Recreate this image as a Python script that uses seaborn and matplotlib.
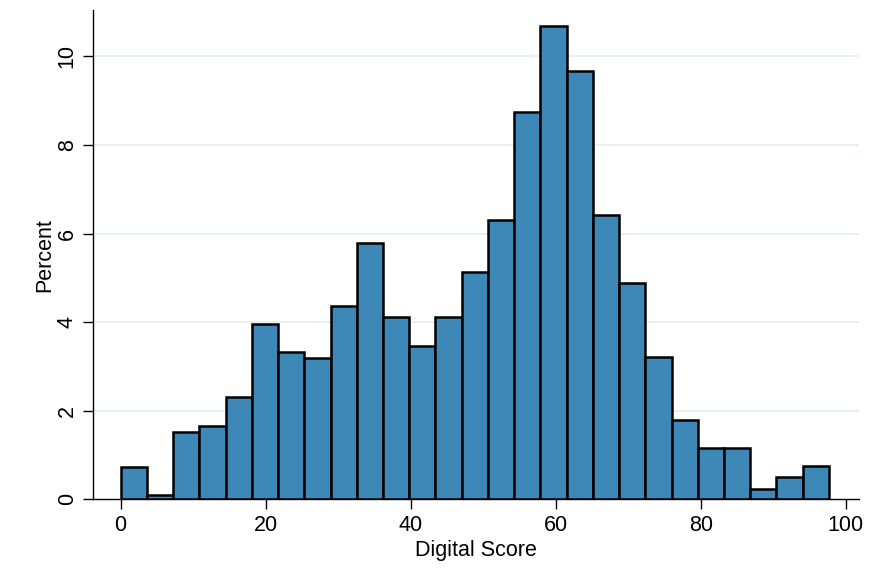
import numpy as np
import pandas as pd
import matplotlib
matplotlib.use("Agg")
import matplotlib.pyplot as plt
import seaborn as sns

# bin edges: 27 equal bins between 0 and ~97.7
n_bins = 27
score_min = 0.0
score_max = 97.7

percent = [0.74, 0.11, 1.53, 1.65, 2.30, 3.97, 3.33, 3.20, 4.37, 5.79,
           4.11, 3.46, 4.11, 5.14, 6.30, 8.75, 10.69, 9.66, 6.43, 4.89,
           3.21, 1.79, 1.15, 1.15, 0.24, 0.50, 0.76]

x_ticks = [0, 20, 40, 60, 80, 100]
y_ticks = [0, 2, 4, 6, 8, 10]

edges = np.linspace(score_min, score_max, n_bins + 1)
centers = (edges[:-1] + edges[1:]) / 2
df = pd.DataFrame({"score": centers, "percent": percent})

sns.set_theme(style="white")
plt.rcParams["font.family"] = ["Liberation Sans", "DejaVu Sans"]

fig = plt.figure(figsize=(8.7, 5.79), dpi=100)
ax = fig.add_axes([0.107, 0.1375, 0.880, 0.8455])

sns.histplot(data=df, x="score", weights="percent", bins=n_bins,
             binrange=(score_min, score_max),
             color="#3E88B8", alpha=1.0, edgecolor="black", linewidth=1.8,
             ax=ax, zorder=3)

ax.set_xlim(-3.8, 101.8)
ax.set_ylim(0, 11.05)
ax.set_xticks(x_ticks)
ax.set_yticks(y_ticks)
ax.set_yticklabels([str(t) for t in y_ticks], rotation=90, va="center")

for t in y_ticks[1:]:
    ax.axhline(t, color="#EAF0F2", linewidth=1.5, zorder=0)

for side in ["top", "right"]:
    ax.spines[side].set_visible(False)
for side in ["left", "bottom"]:
    ax.spines[side].set_color("black")
    ax.spines[side].set_linewidth(1.0)

ax.tick_params(axis="both", direction="out", length=7, width=1.0,
               color="black", labelcolor="black", labelsize=15.5, pad=4,
               bottom=True, left=True)
ax.set_xlabel("Digital Score", fontsize=15.5, color="black", labelpad=3)
ax.set_ylabel("Percent", fontsize=15.5, color="black", labelpad=1)

fig.savefig("out.png", dpi=100, facecolor="white")
